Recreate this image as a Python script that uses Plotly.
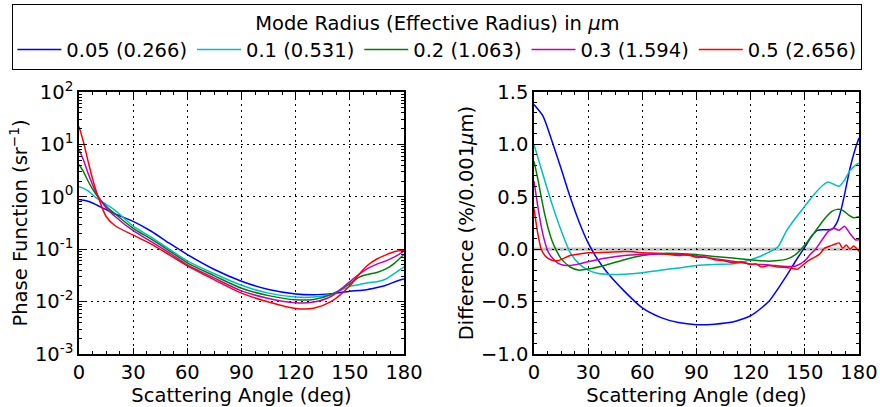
import plotly.graph_objects as go

names = ["0.05 (0.266)", "0.1 (0.531)", "0.2 (1.063)", "0.3 (1.594)", "0.5 (2.656)"]
colors = ["#0000ff", "#00bfbf", "#008000", "#bf00bf", "#ff0000"]

# ---- Left: phase function ----
pf_x = [0, 2.5, 5, 7.5, 10, 15, 20, 30, 40, 50, 60, 75, 90, 105, 120, 130, 140, 150, 155, 160, 165, 170, 175, 180]
pf_blue = [0.89, 0.86, 0.82, 0.76, 0.69, 0.57, 0.47, 0.34, 0.22, 0.13, 0.079, 0.041, 0.0245, 0.017, 0.014, 0.0135, 0.0142, 0.0158, 0.0163, 0.017, 0.0185, 0.0205, 0.024, 0.027]
pf_cyan = [1.55, 1.45, 1.3, 1.1, 0.93, 0.72, 0.55, 0.275, 0.17, 0.1, 0.06, 0.034, 0.0205, 0.0145, 0.0122, 0.0122, 0.0138, 0.0195, 0.021, 0.023, 0.024, 0.027, 0.035, 0.046]
pf_green = [4.1, 3.0, 2.0, 1.4, 1.05, 0.66, 0.47, 0.25, 0.155, 0.093, 0.055, 0.031, 0.018, 0.013, 0.0108, 0.011, 0.0138, 0.022, 0.029, 0.033, 0.036, 0.042, 0.055, 0.08]
pf_magenta = [8.0, 5.0, 2.8, 1.7, 1.1, 0.62, 0.42, 0.225, 0.14, 0.085, 0.05, 0.028, 0.016, 0.0115, 0.0095, 0.0098, 0.0128, 0.024, 0.033, 0.043, 0.052, 0.06, 0.072, 0.092]
pf_red = [22, 11, 4.8, 2.2, 1.15, 0.42, 0.28, 0.185, 0.125, 0.078, 0.048, 0.026, 0.0145, 0.0098, 0.0074, 0.0075, 0.0102, 0.02, 0.033, 0.05, 0.065, 0.078, 0.09, 0.095]

# ---- Right: difference ----
d_blue_x = [0, 5, 10, 15, 20, 25, 30, 35, 40, 50, 60, 70, 80, 90, 100, 110, 120, 130, 140, 145, 150, 154, 157, 161, 165, 168, 170, 172, 175, 178, 180]
d_blue = [1.38, 1.27, 1.03, 0.77, 0.50, 0.26, 0.06, -0.09, -0.21, -0.40, -0.56, -0.65, -0.70, -0.72, -0.715, -0.695, -0.635, -0.50, -0.25, -0.11, 0.02, 0.13, 0.18, 0.185, 0.19, 0.26, 0.37, 0.52, 0.77, 0.96, 1.06]
d_cyan_x = [0, 5, 10, 15, 20, 25, 30, 35, 40, 50, 60, 70, 80, 90, 100, 110, 120, 125, 130, 135, 140, 145, 150, 155, 160, 163, 166, 169, 172, 175, 178, 180]
d_cyan = [1.0, 0.71, 0.43, 0.18, -0.03, -0.14, -0.20, -0.23, -0.24, -0.24, -0.225, -0.20, -0.18, -0.155, -0.145, -0.14, -0.10, -0.07, -0.03, 0.02, 0.18, 0.30, 0.41, 0.52, 0.61, 0.64, 0.62, 0.60, 0.66, 0.75, 0.80, 0.82]
d_green_x = [0, 2, 4, 6, 8, 10, 12, 15, 20, 25, 30, 40, 50, 60, 70, 80, 90, 100, 110, 120, 130, 140, 145, 150, 155, 160, 165, 168, 171, 174, 177, 180]
d_green = [0.84, 0.68, 0.50, 0.33, 0.19, 0.08, 0.0, -0.09, -0.17, -0.20, -0.19, -0.15, -0.10, -0.06, -0.04, -0.04, -0.05, -0.07, -0.085, -0.10, -0.115, -0.095, -0.05, 0.04, 0.15, 0.27, 0.36, 0.38, 0.37, 0.33, 0.30, 0.31]
d_magenta_x = [0, 2, 4, 6, 8, 10, 13, 16, 20, 25, 30, 40, 50, 60, 70, 80, 90, 100, 110, 120, 130, 140, 145, 150, 153, 156, 160, 163, 166, 169, 172, 175, 178, 180]
d_magenta = [0.65, 0.42, 0.22, 0.07, -0.03, -0.08, -0.13, -0.15, -0.155, -0.14, -0.12, -0.085, -0.06, -0.05, -0.045, -0.05, -0.065, -0.09, -0.115, -0.14, -0.15, -0.165, -0.16, -0.11, -0.05, 0.0, 0.10, 0.17, 0.20, 0.18, 0.22, 0.15, 0.09, 0.09]
d_red_x = [0, 1, 2, 3, 4, 6, 8, 10, 13, 16, 20, 25, 30, 40, 50, 55, 60, 70, 80, 85, 90, 95, 100, 105, 110, 115, 120, 123, 126, 130, 135, 140, 143, 146, 149, 152, 155, 158, 161, 164, 167, 169, 171, 173, 175, 177, 180]
d_red = [0.39, 0.27, 0.16, 0.07, 0.0, -0.06, -0.09, -0.105, -0.11, -0.09, -0.06, -0.045, -0.035, -0.03, -0.022, -0.025, -0.035, -0.04, -0.06, -0.05, -0.08, -0.075, -0.10, -0.11, -0.13, -0.12, -0.145, -0.14, -0.17, -0.155, -0.17, -0.175, -0.185, -0.19, -0.15, -0.11, -0.08, -0.05, 0.01, 0.03, 0.05, 0.06, 0.01, 0.04, 0.0, 0.03, -0.02]

pf_sets = [pf_blue, pf_cyan, pf_green, pf_magenta, pf_red]
diff_sets = [(d_blue_x, d_blue), (d_cyan_x, d_cyan), (d_green_x, d_green), (d_magenta_x, d_magenta), (d_red_x, d_red)]

x_ticks = [0, 30, 60, 90, 120, 150, 180]
pf_tickvals = [1e-3, 1e-2, 1e-1, 1e0, 1e1, 1e2]
pf_ticktext = ["10<sup>-3</sup>", "10<sup>-2</sup>", "10<sup>-1</sup>", "10<sup>0</sup>", "10<sup>1</sup>", "10<sup>2</sup>"]
d_tickvals = [-1.0, -0.5, 0.0, 0.5, 1.0, 1.5]
d_ticktext = ["\u22121.0", "\u22120.5", "0.0", "0.5", "1.0", "1.5"]

FS = 19.5

fig = go.Figure()

# grey band at zero on right plot
fig.add_shape(type="rect", xref="x2", yref="y2", x0=0, x1=180, y0=-0.016, y1=0.016,
              fillcolor="rgba(128,128,128,0.5)", line_width=0, layer="below")

for i in range(5):
    fig.add_trace(go.Scatter(x=pf_x, y=pf_sets[i], mode="lines", name=names[i],
                             line=dict(color=colors[i], width=1.5, shape="spline", smoothing=0.8),
                             xaxis="x", yaxis="y", legendgroup=names[i]))
for i in range(5):
    dx, dy = diff_sets[i]
    fig.add_trace(go.Scatter(x=dx, y=dy, mode="lines", name=names[i], showlegend=False,
                             line=dict(color=colors[i], width=1.5, shape="spline", smoothing=0.6),
                             xaxis="x2", yaxis="y2", legendgroup=names[i]))

minor_log = [m * 10 ** e for e in range(-3, 2) for m in range(2, 10)]

axis_common = dict(showline=True, linecolor="black", linewidth=1.5, mirror="ticks",
                   ticks="inside", ticklen=6, tickwidth=1, tickcolor="black",
                   showgrid=True, gridcolor="black", gridwidth=1, griddash="2px,4px",
                   zeroline=False, automargin=False, tickfont=dict(size=FS, color="black"),
                   title_font=dict(size=FS, color="black"))

x_minor = dict(ticks="inside", ticklen=3, tickcolor="black", dtick=7.5, tick0=0, showgrid=False)

fig.update_layout(
    width=880, height=407,
    margin=dict(l=0, r=0, t=0, b=0),
    paper_bgcolor="white", plot_bgcolor="white",
    font=dict(family="DejaVu Sans", color="black"),
    xaxis=dict(domain=[0.0898, 0.4591], range=[0, 180], tickvals=x_ticks, anchor="y",
               title=dict(text="Scattering Angle (deg)", standoff=2), minor=x_minor, **axis_common),
    yaxis=dict(domain=[0.1302, 0.7740], type="log", range=[-3, 2], tickvals=pf_tickvals,
               ticktext=pf_ticktext, anchor="x",
               title=dict(text="Phase Function (sr<sup>\u22121</sup>)", standoff=2),
               minor=dict(ticks="inside", ticklen=3, tickcolor="black", tickvals=minor_log, showgrid=False),
               **axis_common),
    xaxis2=dict(domain=[0.6068, 0.9761], range=[0, 180], tickvals=x_ticks, anchor="y2",
                title=dict(text="Scattering Angle (deg)", standoff=2), minor=x_minor, **axis_common),
    yaxis2=dict(domain=[0.1302, 0.7740], range=[-1.0, 1.5], tickvals=d_tickvals, ticktext=d_ticktext,
                anchor="x2", title=dict(text="Difference (%/0.001<i>\u03bc</i>m)", standoff=2),
                minor=dict(ticks="inside", ticklen=3, tickcolor="black", dtick=0.1, tick0=0, showgrid=False),
                **axis_common),
    legend=dict(orientation="h", x=0.497, xanchor="center", y=0.99, yanchor="top",
                bordercolor="black", borderwidth=1, bgcolor="white", itemwidth=44,
                font=dict(size=FS, color="black"),
                title=dict(text="Mode Radius (Effective Radius) in <i>\u03bc</i>m", side="top center",
                           font=dict(size=FS, color="black"))),
)

fig.write_html("out.html", config={"displayModeBar": False},
               post_script="document.body.style.margin='0';document.body.style.padding='0';")
